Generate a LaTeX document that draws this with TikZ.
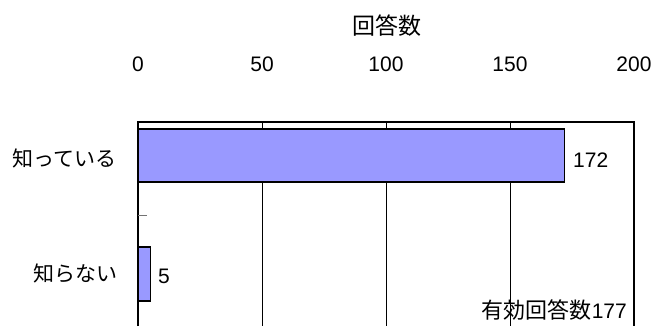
\documentclass[tikz,border=0pt]{standalone}
\usepackage{fontspec}
\setmainfont{Liberation Sans}
\newfontfamily\jpfont{Noto Sans CJK JP}
\usetikzlibrary{positioning}
\definecolor{barblue}{HTML}{9999FF}

\begin{document}
\begin{tikzpicture}[x=1bp,y=-1bp,
  every node/.style={font=\fontsize{21bp}{24bp}\selectfont, inner sep=0pt},
  jp/.style={font=\fontsize{21bp}{24bp}\selectfont\jpfont},
  bar/.style={draw=black, line width=1.3bp, fill=barblue}]
\useasboundingbox (0,0) rectangle (655,326);

%title
\node[jp, font=\fontsize{23bp}{26bp}\selectfont\jpfont] (title) at (387,26) {回答数};

%scale
\foreach \x in {0,50,...,200} {\node (tick\x) at ({138+\x*2.48},64) {\x};}

%grid
\draw[line width=0.8bp] \foreach \x in {50,100,150} {({138+\x*2.48},122) -- ({138+\x*2.48},326)};
\draw[line width=1.3bp] (138,326) -- (138,122) -- (634,122) -- (634,326);
\draw[black!55, line width=1bp] (138,215) -- (147,215);

%bars
\draw[bar] (138,129) rectangle ({138+172*2.48},182);
\draw[bar] (138,247) rectangle ({138+5*2.48},301);

%labels
\node[jp, anchor=east] (known) at (117,158) {知っている};
\node[jp, anchor=east] (unknown) at (118,273) {知らない};
\node[anchor=base west] (knownval) at (573,167) {172};
\node[anchor=base west] (unknownval) at (158,283) {5};
\node[anchor=base east] (total) at (627,318) {{\fontsize{22bp}{24bp}\selectfont\jpfont 有効回答数}177};
\end{tikzpicture}
\end{document}
